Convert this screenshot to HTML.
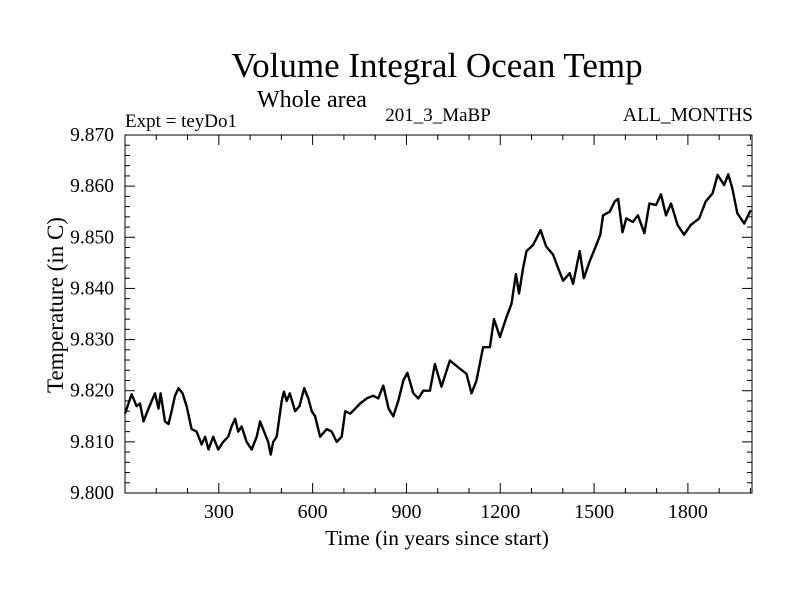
<!DOCTYPE html>
<html><head><meta charset="utf-8"><style>
body{margin:0;background:#fff;width:800px;height:600px;overflow:hidden}
svg text{font-family:"Liberation Serif",serif;fill:#000}
</style></head><body>
<svg id="chart" width="800" height="600">
<text x="437" y="77" font-size="35" text-anchor="middle">Volume Integral Ocean Temp</text>
<text x="257" y="107" font-size="24">Whole area</text>
<text x="125" y="127" font-size="19">Expt = teyDo1</text>
<text x="438" y="121" font-size="19" text-anchor="middle">201_3_MaBP</text>
<text x="753" y="121" font-size="19.5" text-anchor="end">ALL_MONTHS</text>
<text x="437" y="545" font-size="21.5" text-anchor="middle">Time (in years since start)</text>
<text transform="translate(63,305) rotate(-90)" font-size="23" text-anchor="middle">Temperature (in C)</text>
<g id="axes"></g>
<path id="series" fill="none" stroke="#000" stroke-width="2.4" stroke-linejoin="round"/>
<rect x="125" y="135" width="627" height="358" fill="none" stroke="#000" stroke-width="1"/>
</svg>
<script>
const years=[0,21,37,48,59,75,96,107,114,128,139,149,160,171,184,197,213,229,245,256,267,282,298,314,330,341,352,362,373,389,405,421,432,448,458,466,474,485,501,508,517,527,544,558,573,586,597,608,624,645,661,677,693,704,720,736,752,773,794,810,826,843,858,874,890,903,922,938,954,975,991,1012,1039,1071,1092,1108,1124,1145,1167,1180,1199,1220,1236,1250,1260,1273,1284,1305,1329,1347,1369,1385,1401,1422,1433,1454,1467,1486,1507,1520,1529,1550,1566,1577,1591,1603,1624,1640,1661,1677,1698,1714,1730,1746,1767,1788,1809,1836,1857,1879,1895,1916,1929,1942,1958,1980,2001];
const temps=[9.8155,9.8193,9.817,9.8175,9.814,9.8165,9.8195,9.8165,9.8195,9.814,9.8135,9.816,9.819,9.8205,9.8195,9.817,9.8125,9.812,9.8095,9.811,9.8085,9.811,9.8085,9.810,9.811,9.813,9.8145,9.812,9.813,9.810,9.8085,9.811,9.814,9.8115,9.810,9.8075,9.810,9.811,9.818,9.8198,9.818,9.8195,9.816,9.817,9.8205,9.8185,9.816,9.815,9.811,9.8125,9.812,9.810,9.811,9.816,9.8155,9.8165,9.8175,9.8185,9.819,9.8185,9.821,9.8165,9.815,9.818,9.822,9.8235,9.8195,9.8185,9.820,9.820,9.8252,9.8208,9.8259,9.8243,9.8233,9.8195,9.822,9.8285,9.8285,9.834,9.8305,9.8344,9.837,9.8428,9.839,9.844,9.8473,9.8485,9.8514,9.8482,9.8466,9.844,9.8415,9.843,9.8409,9.8473,9.842,9.8453,9.8485,9.8505,9.8543,9.855,9.857,9.8575,9.851,9.8537,9.853,9.8543,9.8508,9.8566,9.8563,9.8584,9.8543,9.8566,9.8524,9.8505,9.8524,9.8537,9.857,9.8586,9.8622,9.8602,9.8623,9.8596,9.8547,9.8527,9.8553];
const xTicks=[300,600,900,1200,1500,1800];
const yTicks=[9.800,9.810,9.820,9.830,9.840,9.850,9.860,9.870];
const L=125,R=752,T=135,B=493,X0=0,X1=2005,Y0=9.800,Y1=9.870;
const xs=v=>L+(v-X0)/(X1-X0)*(R-L);
const ys=v=>B-(v-Y0)/(Y1-Y0)*(B-T);
const NS='http://www.w3.org/2000/svg';
const g=document.getElementById('axes');
function mk(t,a){const e=document.createElementNS(NS,t);for(const k in a)e.setAttribute(k,a[k]);g.appendChild(e);return e;}
for(let v=100;v<X1;v+=100){const x=xs(v),maj=v%300===0,len=maj?10:5;
 const t1=mk('line',{x1:x,x2:x,y1:B,y2:B-len,stroke:'#000'});
 
 
 const t2=mk('line',{x1:x,x2:x,y1:T,y2:T+len,stroke:'#000'});
 
 }
xTicks.forEach(v=>{const t=mk('text',{x:xs(v),y:518,'font-size':20,'text-anchor':'middle'});t.textContent=v;
 
 });
for(let i=0;i<=35;i++){const v=Y0+i*0.002,y=ys(v),maj=i%5===0,len=maj?10:5;
 const t1=mk('line',{x1:L,x2:L+len,y1:y,y2:y,stroke:'#000'});
 
 
 const t2=mk('line',{x1:R,x2:R-len,y1:y,y2:y,stroke:'#000'});
 
 }
yTicks.forEach(v=>{const t=mk('text',{x:114,y:ys(v)+6,'font-size':19.5,'text-anchor':'end'});t.textContent=v.toFixed(3);
 
 });
document.getElementById('series').setAttribute('d',years.map((y,i)=>(i?'L':'M')+xs(y).toFixed(1)+','+ys(temps[i]).toFixed(1)).join(''));
</script>
</body></html>
